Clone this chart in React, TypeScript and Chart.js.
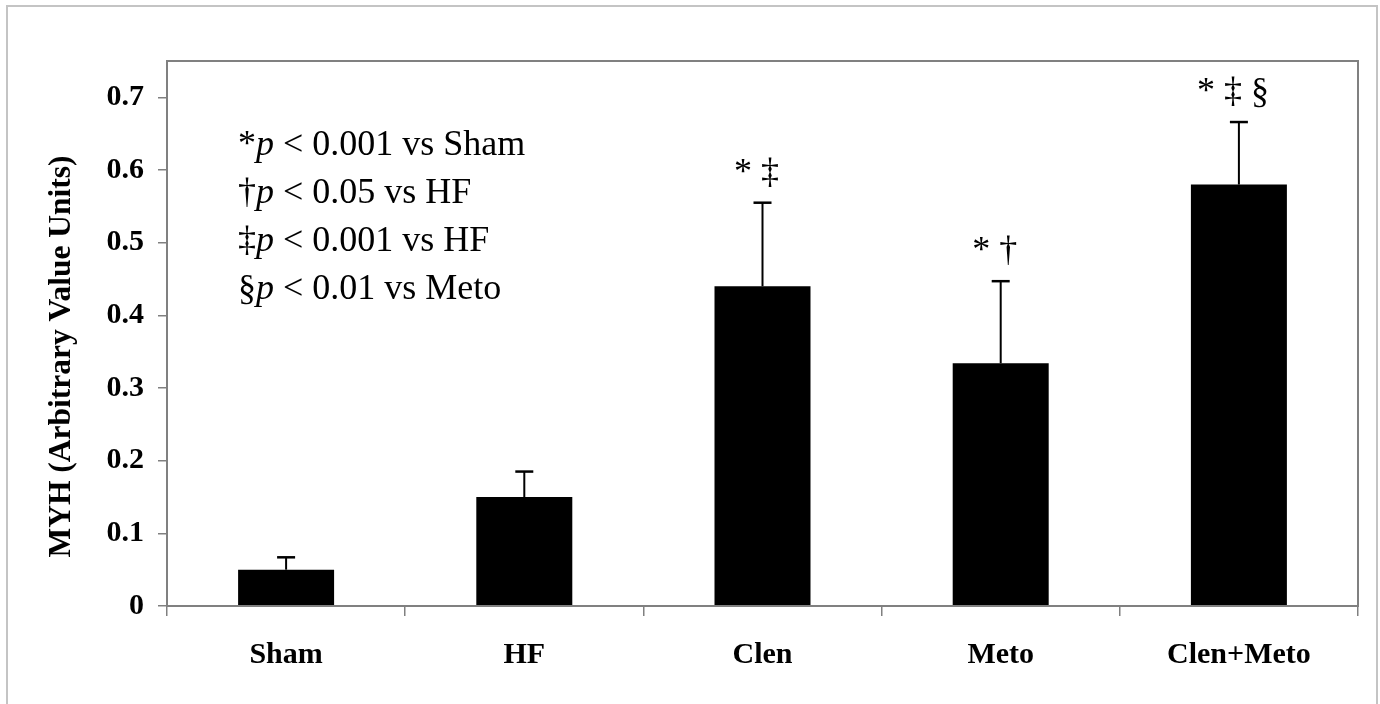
import React, { useEffect, useRef } from 'react';
import { Chart, registerables } from 'chart.js';

Chart.register(...registerables);

const categories = ['Sham', 'HF', 'Clen', 'Meto', 'Clen+Meto'];
const means = [0.05, 0.15, 0.44, 0.334, 0.58];
const errors = [0.017, 0.035, 0.115, 0.113, 0.086];
const significance = ['', '', '* ‡', '* †', '* ‡ §'];
const legendSymbols = ['*', '†', '‡', '§'];
const legendTexts = [' < 0.001 vs Sham', ' < 0.05 vs HF', ' < 0.001 vs HF', ' < 0.01 vs Meto'];
const yAxisTitle = 'MYH (Arbitrary Value Units)';
const yMin = 0;
const yMax = 0.75;
const yStep = 0.1;

const SERIF = "'Liberation Serif', 'Times New Roman', serif";

const overlayPlugin = {
  id: 'overlay',
  afterDatasetsDraw(chart: any) {
    const ctx = chart.ctx as CanvasRenderingContext2D;
    const { left, top, right, bottom } = chart.chartArea;
    const yScale = chart.scales.y;
    const meta = chart.getDatasetMeta(0);
    ctx.save();
    // error bars and significance marks
    ctx.strokeStyle = '#000';
    ctx.fillStyle = '#000';
    meta.data.forEach((bar: any, i: number) => {
      const cx = bar.x;
      const y0 = yScale.getPixelForValue(means[i]);
      const y1 = yScale.getPixelForValue(means[i] + errors[i]);
      ctx.lineWidth = 2;
      ctx.beginPath();
      ctx.moveTo(cx, y0);
      ctx.lineTo(cx, y1);
      ctx.stroke();
      ctx.lineWidth = 2.5;
      ctx.beginPath();
      ctx.moveTo(cx - 9, y1);
      ctx.lineTo(cx + 9, y1);
      ctx.stroke();
      if (significance[i]) {
        ctx.font = `36px ${SERIF}`;
        ctx.textAlign = 'center';
        ctx.textBaseline = 'alphabetic';
        ctx.fillText(significance[i], cx - 6, y1 - 20);
      }
    });
    // plot frame
    ctx.strokeStyle = '#808080';
    ctx.lineWidth = 2;
    ctx.strokeRect(left, top, right - left, bottom - top);
    // legend text
    ctx.textAlign = 'left';
    ctx.textBaseline = 'alphabetic';
    legendSymbols.forEach((sym, i) => {
      let x = left + 71;
      const y = top + 94 + i * 48;
      ctx.font = `36px ${SERIF}`;
      ctx.fillText(sym, x, y);
      x += ctx.measureText(sym).width;
      ctx.font = `italic 36px ${SERIF}`;
      ctx.fillText('p', x, y);
      x += ctx.measureText('p').width;
      ctx.font = `36px ${SERIF}`;
      ctx.fillText(legendTexts[i], x, y);
    });
    // y axis title
    ctx.translate(left - 105, (top + bottom) / 2 + 23);
    ctx.rotate(-Math.PI / 2);
    ctx.font = `bold 31.5px ${SERIF}`;
    ctx.textAlign = 'center';
    ctx.textBaseline = 'middle';
    ctx.fillText(yAxisTitle, 0, 0);
    ctx.restore();
  },
};

export default function App() {
  const canvasRef = useRef<HTMLCanvasElement | null>(null);

  useEffect(() => {
    if (!canvasRef.current) return;
    const chart = new Chart(canvasRef.current, {
      type: 'bar',
      data: {
        labels: categories,
        datasets: [
          {
            data: means,
            backgroundColor: '#000',
            borderWidth: 0,
            categoryPercentage: 1,
            barPercentage: 0.403,
          },
        ],
      },
      options: {
        animation: false,
        responsive: true,
        maintainAspectRatio: false,
        layout: { padding: { left: 7, top: 61, right: 22, bottom: 0 } },
        plugins: {
          legend: { display: false },
          tooltip: { enabled: false },
          title: { display: false },
        },
        scales: {
          x: {
            afterFit: (scale: any) => {
              scale.height = 98;
            },
            grid: {
              offset: true,
              drawOnChartArea: false,
              drawTicks: true,
              tickLength: 10,
              color: '#808080',
              lineWidth: 1.5,
            },
            border: { display: true, color: '#808080', width: 2 },
            ticks: {
              color: '#000',
              padding: 21,
              font: { family: SERIF, size: 30, weight: 'bold' },
              maxRotation: 0,
            },
          },
          y: {
            min: yMin,
            max: yMax,
            afterFit: (scale: any) => {
              scale.width = 160;
            },
            grid: {
              drawOnChartArea: false,
              drawTicks: true,
              tickLength: 9,
              color: '#808080',
              lineWidth: 1.5,
            },
            border: { display: true, color: '#808080', width: 2 },
            ticks: {
              stepSize: yStep,
              includeBounds: false,
              color: '#000',
              padding: 14,
              font: { family: SERIF, size: 30, weight: 'bold' },
              callback: (v: any) => String(Math.round(Number(v) * 10) / 10),
            },
          },
        },
      },
      plugins: [overlayPlugin],
    });
    return () => chart.destroy();
  }, []);

  return (
    <div style={{ position: 'fixed', left: 0, top: 0, width: 1380, height: 704, background: '#fff' }}>
      <div
        style={{
          position: 'absolute',
          left: 6,
          top: 5,
          width: 1372,
          height: 740,
          border: '2px solid #c4c4c4',
          boxSizing: 'border-box',
          pointerEvents: 'none',
        }}
      />
      <canvas ref={canvasRef} style={{ position: 'absolute', left: 0, top: 0 }} />
    </div>
  );
}
